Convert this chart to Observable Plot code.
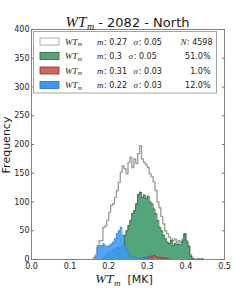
<!DOCTYPE html>
<html><head><meta charset="utf-8">
<script src="https://cdn.jsdelivr.net/npm/d3@7"></script>
<script src="https://cdn.jsdelivr.net/npm/@observablehq/plot@0.6"></script>
<style>body{margin:0;background:#fff;} svg{display:block;overflow:visible}</style>
</head><body><div id="chart"></div>
<script>
const binStart = [0.160,0.165,0.170,0.175,0.180,0.185,0.190,0.195,0.200,0.205,
  0.210,0.215,0.220,0.225,0.230,0.235,0.240,0.245,0.250,0.255,
  0.260,0.265,0.270,0.275,0.280,0.285,0.290,0.295,0.300,0.305,
  0.310,0.315,0.320,0.325,0.330,0.335,0.340,0.345,0.350,0.355,
  0.360,0.365,0.370,0.375,0.380,0.385,0.390,0.395,0.400,0.405,
  0.410,0.415,0.420,0.425,0.430,0.435,0.440,0.445];
const binWidth = 0.005;
const totalCounts = [3,8,24,33,33,56,58,68,82,94, 97,108,120,134,152,163,158,149,169,178,
  160,175,167,184,198,175,169,165,160,149, 144,135,120,100,90,75,62,50,45,39,
  36,33,36,30,33,30,36,45,33,24, 8,2,1,0,1,0,1,0];
const greenCounts = [0,0,0,0,0,3,6,10,12,14, 16,18,20,22,22,24,42,50,59,68,
  80,85,97,113,117,108,112,106,110,100, 97,88,80,68,56,50,42,36,30,28,
  33,24,28,26,27,25,32,45,30,22, 6,2,0,0,1,0,1,0];
const redCounts = [0,0,0,0,0,0,0,0,0,0, 0,0,0,0,0,0,0,0,0,0,
  0,0,1,1,2,2,3,2,4,6, 3,7,5,3,4,2,3,1,2,0,
  0,0,0,0,0,0,0,0,0,0, 0,0,0,0,0,0,0,0];
const blueCounts = [0,5,21,24,24,27,24,22,24,27, 30,36,45,50,56,42,24,19,10,5,
  4,4,3,3,2,2,2,1,1,1, 0,0,0,0,0,0,0,0,0,0,
  0,0,0,0,0,0,0,0,0,0, 0,0,0,0,0,0,0,0];

const xTicks = [0,0.1,0.2,0.3,0.4,0.5];
const yTicks = [0,50,100,150,200,250,300,350,400];

const titleVar = "WT", titleSub = "m", titleRest = "\u00a0-\u00a02082\u00a0-\u00a0North";
const yLabel = "Frequency";
const xLabelUnit = "\u00a0\u00a0[MK]";
const legendMeans = ["0.27","0.3","0.31","0.22"];
const legendSigmas = ["0.05","0.05","0.03","0.03"];
const legendRight = ["N: 4598","51.0%","1.0%","12.0%"];

// styles
const seriesFill = ["#ffffff","#55a57a","#d26464","#3a9af2"];
const seriesStroke = ["#9a9a9a","#2c5e3e","#8a3030","#2a6fc0"];

function series(counts){
  let first = counts.findIndex(c=>c>0);
  let last = counts.length-1 - [...counts].reverse().findIndex(c=>c>0);
  const pts = [];
  for(let i=first;i<=last;i++) pts.push({x:binStart[i], y:counts[i]});
  const end = binStart[last]+binWidth;
  return {
    area: [...pts, {x:end, y:0}],
    line: [{x:binStart[first], y:0}, ...pts, {x:end, y:0}]
  };
}
const S = [totalCounts, greenCounts, redCounts, blueCounts].map(series);
const ff = "DejaVu Sans";

const marks = [];
S.forEach((s,k)=>{
  marks.push(Plot.areaY(s.area,{x:"x", y:"y", curve:"step-after", fill:seriesFill[k], fillOpacity: k===3?0.88:1}));
  marks.push(Plot.lineY(s.line,{x:"x", y:"y", curve:"step-after", stroke:seriesStroke[k], strokeWidth: k===0?1.3:0.8, strokeOpacity: k===3?0.5:1}));
});

const chart = Plot.plot({
  width:249, height:291,
  marginLeft:31, marginRight:25, marginTop:29, marginBottom:32,
  x:{domain:[0,0.5]},
  y:{domain:[0,400]},
  style:{fontFamily:ff, fontSize:"8px", color:"#222", background:"#fff"},
  marks:[
    ...marks,
    Plot.frame({stroke:"#777", strokeWidth:0.9}),
    Plot.axisY({ticks:yTicks, anchor:"left", tickSize:0, tickPadding:2, label:null, fill:"#222"}),
    Plot.axisY({ticks:yTicks, anchor:"left", tickSize:-3, tickFormat:()=>"", label:null, stroke:"#777"}),
    Plot.axisY({ticks:yTicks, anchor:"right", tickSize:-3, tickFormat:()=>"", label:null, stroke:"#777"}),
    Plot.axisX({ticks:xTicks, anchor:"bottom", tickSize:0, tickPadding:4, tickFormat:d=>d.toFixed(1), label:null, fill:"#222"}),
  ]
});
document.getElementById("chart").appendChild(chart);

const svg = d3.select(chart);
const serif = "Liberation Serif";

function txt(parent, x, y, s, opts={}){
  const e = parent.append("text").attr("x",x).attr("y",y)
    .attr("font-family", opts.serif ? serif : ff)
    .attr("font-style", opts.serif ? "italic" : "normal")
    .attr("font-size", opts.size || 8)
    .attr("text-anchor", opts.anchor || "start")
    .attr("fill", "#1a1a1a").text(s);
  return e;
}
function w(e){ return e.node().getComputedTextLength(); }

// title: centered composite
{
  const g = svg.append("g");
  const a = txt(g, 0, 27, titleVar, {serif:true, size:15});
  const b = txt(g, w(a)+0.5, 30, titleSub, {serif:true, size:10});
  const c = txt(g, w(a)+0.5+w(b), 27, titleRest, {size:13});
  const total = w(a)+0.5+w(b)+w(c);
  g.attr("transform", `translate(${127.5-total/2},0)`);
}

// y label
svg.append("text").attr("transform","translate(10,145) rotate(-90)").attr("text-anchor","middle")
  .attr("font-family",ff).attr("font-size",11).attr("fill","#1a1a1a").text(yLabel);

// x label
{
  const g = svg.append("g");
  const a = txt(g, 0, 283, titleVar, {serif:true, size:13});
  const b = txt(g, w(a)+0.5, 285.5, titleSub, {serif:true, size:9});
  const c = txt(g, w(a)+0.5+w(b), 283, xLabelUnit, {size:11});
  const total = w(a)+0.5+w(b)+w(c);
  g.attr("transform", `translate(${124-total/2},0)`);
}

// legend
const lg = svg.append("g");
lg.append("rect").attr("x",33.5).attr("y",31.5).attr("width",183).attr("height",61.5)
  .attr("fill","#fff").attr("stroke","#999").attr("stroke-width",0.9);
const rowY = [41.5,56,70.5,85];
rowY.forEach((cy,i)=>{
  lg.append("rect").attr("x",40).attr("y",cy-3.5).attr("width",19).attr("height",7)
    .attr("fill",seriesFill[i]).attr("stroke",seriesStroke[i]).attr("stroke-width",0.8);
  const by = cy+3;
  const a = txt(lg, 65, by, "WT", {serif:true, size:9});
  txt(lg, 65+w(a)+0.3, by+1.5, "m", {serif:true, size:6});
  const m = txt(lg, 97, by, "m", {serif:true, size:9});
  const mv = txt(lg, 97+w(m)+0.5, by, ":\u00a0"+legendMeans[i], {size:8});
  const sx = 97+w(m)+0.5+w(mv)+6.5;
  const s = txt(lg, sx, by, "σ", {serif:true, size:9});
  txt(lg, sx+w(s)+0.8, by, ":\u00a0"+legendSigmas[i], {size:8});
  if(legendRight[i].startsWith("N")){
    const rest = txt(lg, 212.5, by, legendRight[i].slice(1).replace(" ","\u00a0"), {size:8, anchor:"end"});
    txt(lg, 212.5-w(rest)-0.5, by, "N", {serif:true, size:9, anchor:"end"});
  } else txt(lg, 210.5, by, legendRight[i], {size:8, anchor:"end"});
});
</script>
</body></html>
